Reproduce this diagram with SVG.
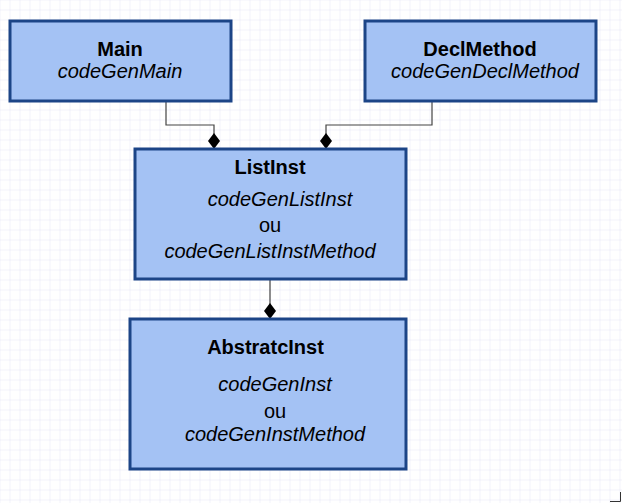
<svg xmlns="http://www.w3.org/2000/svg" width="622" height="503" viewBox="0 0 622 503">
<defs>
<pattern id="grid" x="0.5" y="0.5" width="10" height="10" patternUnits="userSpaceOnUse">
<path d="M10 0V10M0 10H10" fill="none" stroke="#e6e6f6" stroke-width="1"/>
</pattern>
<marker id="dia" viewBox="0 0 18 13" refX="17" refY="6.5" markerWidth="18" markerHeight="13" markerUnits="userSpaceOnUse" orient="auto">
<path d="M1 6.5L9 0.5L17 6.5L9 12.5Z" fill="#000"/>
</marker>
</defs>
<style>
.box{fill:#a4c2f4;stroke:#1c4587;stroke-width:3}
.t{font-family:"Liberation Sans",Arial,sans-serif;font-size:20px;fill:#000;text-anchor:middle}
.b{font-weight:bold}
.i{font-style:italic}
.c{fill:none;stroke:#444;stroke-width:1.2}
</style>
<rect width="622" height="503" fill="#fff"/>
<rect width="622" height="503" fill="url(#grid)"/>
<g id="connectors">
<path class="c" d="M166 101V125H214V149" marker-end="url(#dia)"/>
<path class="c" d="M432 101V125H326V149" marker-end="url(#dia)"/>
<path class="c" d="M270 279V319" marker-end="url(#dia)"/>
</g>
<g id="main">
<rect class="box" x="10" y="21" width="221" height="80"/>
<text class="t b" x="120" y="56">Main</text>
<text class="t i" x="120" y="78">codeGenMain</text>
</g>
<g id="declmethod">
<rect class="box" x="365" y="21" width="231" height="80"/>
<text class="t b" x="480" y="56">DeclMethod</text>
<text class="t i" x="485" y="78">codeGenDeclMethod</text>
</g>
<g id="listinst">
<rect class="box" x="135" y="149" width="271" height="130"/>
<text class="t b" x="270" y="174">ListInst</text>
<text class="t i" x="280" y="206">codeGenListInst</text>
<text class="t" x="270" y="232">ou</text>
<text class="t i" x="270" y="258">codeGenListInstMethod</text>
</g>
<g id="abstratinst">
<rect class="box" x="130" y="319" width="276" height="150"/>
<text class="t b" x="265.5" y="354">AbstratcInst</text>
<text class="t i" x="275" y="391">codeGenInst</text>
<text class="t" x="275" y="418">ou</text>
<text class="t i" x="275" y="441">codeGenInstMethod</text>
</g>
<path d="M610 501.5H620.5V492" fill="none" stroke="#333" stroke-width="1"/>
</svg>
